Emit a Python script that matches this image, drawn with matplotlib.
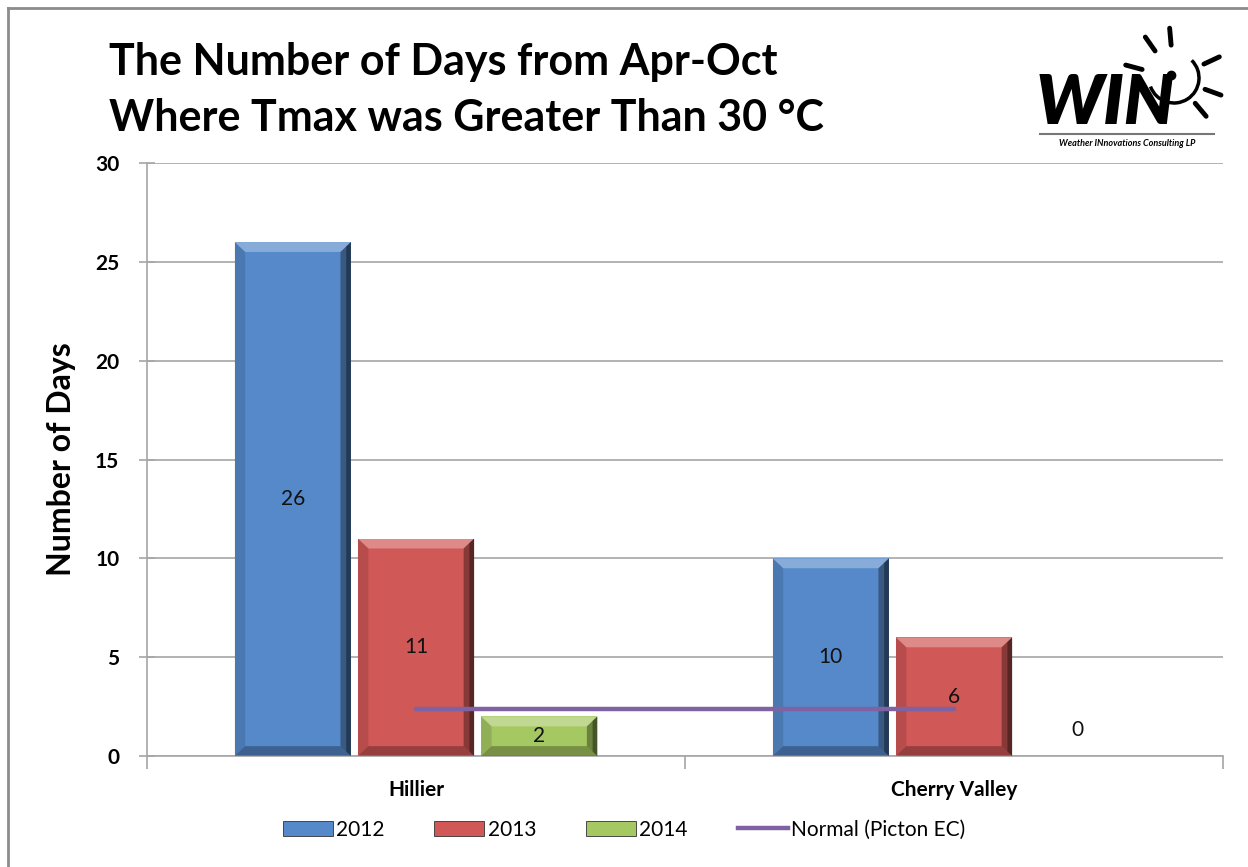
import numpy as np
import matplotlib.pyplot as plt
from matplotlib.patches import Polygon, Patch, Arc
from matplotlib.lines import Line2D

plt.rcParams['font.family'] = ['Lato', 'DejaVu Sans']

# data
stations = ["Hillier", "Cherry Valley"]
years = ["2012", "2013", "2014"]
days_2012 = [26, 10]
days_2013 = [11, 6]
days_2014 = [2, 0]
normal_picton = [2.4, 2.4]
y_ticks = [0, 5, 10, 15, 20, 25, 30]

colors = ["#5589C9", "#D05857", "#A5C862"]
line_color = "#7F62A1"


def bevel(ax, x0, w, h):
    """Excel-like bevel on a bar drawn as shaded trapezoids."""
    if h <= 0:
        return
    bx = w * 0.09
    by = min(0.5, h / 2)
    x1 = x0 + w
    pieces = [
        ([(x0, h), (x1, h), (x1 - bx, h - by), (x0 + bx, h - by)], "white", 0.3),
        ([(x1, h), (x1, 0), (x1 - bx, by), (x1 - bx, h - by)], "black", 0.35),
        ([(x1, h), (x1, 0), (x1 - bx * 0.45, by * 0.45), (x1 - bx * 0.45, h - by * 0.45)], "black", 0.35),
        ([(x0, 0), (x1, 0), (x1 - bx, by), (x0 + bx, by)], "black", 0.28),
        ([(x0, 0), (x0, h), (x0 + bx, h - by), (x0 + bx, by)], "black", 0.12),
    ]
    for pts, c, a in pieces:
        ax.add_patch(Polygon(pts, closed=True, facecolor=c, alpha=a,
                             edgecolor="none", zorder=3))


fig = plt.figure(figsize=(12.48, 8.67), dpi=100)
ax = fig.add_axes([0.1178, 0.128, 0.8622, 0.684])

x = np.arange(len(stations))
width = 0.216
offsets = [-0.229, 0.0, 0.229]
series = [days_2012, days_2013, days_2014]

for vals, off, col in zip(series, offsets, colors):
    bars = ax.bar(x + off, vals, width, color=col, zorder=2)
    for b, v in zip(bars, vals):
        bevel(ax, b.get_x(), b.get_width(), v)
        ly = v / 2 if v > 0 else 1.3
        ax.text(b.get_x() + b.get_width() / 2, ly, str(v), ha="center",
                va="center", fontsize=15, color="#111111", zorder=5)

ax.plot(x, normal_picton, color=line_color, lw=3.2, zorder=4,
        solid_capstyle="round")

ax.set_xlim(-0.5, 1.5)
ax.set_ylim(0, 30)
ax.set_yticks(y_ticks)
ax.set_yticklabels([str(t) for t in y_ticks], fontsize=15, fontweight="bold")
ax.yaxis.grid(True, color="#A6A6A6", lw=1.2, zorder=0)
ax.set_axisbelow(True)
ax.tick_params(axis="y", direction="inout", length=12, color="#A6A6A6",
               width=1.2, pad=14)

ax.set_xticks(x)
ax.set_xticklabels(stations, fontsize=15, fontweight="bold")
ax.set_xticks([-0.5, 0.5, 1.5], minor=True)
ax.tick_params(axis="x", which="major", length=0, pad=17)
ax.tick_params(axis="x", which="minor", direction="out", length=9,
               color="#A6A6A6", width=1.2)

for side in ["top", "right"]:
    ax.spines[side].set_visible(False)
for side in ["left", "bottom"]:
    ax.spines[side].set_color("#A6A6A6")
    ax.spines[side].set_linewidth(1.2)

ax.set_ylabel("Number of Days", fontsize=23, fontweight="bold", labelpad=14)

fig.text(0.087, 0.929, "The Number of Days from Apr-Oct", fontsize=31,
         fontweight="bold", va="center", ha="left")
fig.text(0.087, 0.864, "Where Tmax was Greater Than 30 \u00b0C", fontsize=31,
         fontweight="bold", va="center", ha="left")

# legend
handles = [Patch(facecolor=c, edgecolor="#333333", lw=0.6) for c in colors]
handles.append(Line2D([0], [0], color=line_color, lw=3.2))
labels = years + ["Normal (Picton EC)"]
fig.legend(handles, labels, loc="center", bbox_to_anchor=(0.5, 0.043),
           ncol=4, frameon=False, fontsize=15, handlelength=2.4,
           handleheight=0.8, handletextpad=0.15, columnspacing=2.4)

# frame edges of the original picture
fig.add_artist(Line2D([0.0064, 0.0064], [0, 0.9908], color="#8C8C8C", lw=2))
fig.add_artist(Line2D([0.0064, 1.0], [0.9908, 0.9908], color="#8C8C8C", lw=2))

# logo in pixel coordinates
lg = fig.add_axes([0, 0, 1, 1], zorder=10)
lg.set_xlim(0, 1248)
lg.set_ylim(867, 0)
lg.axis("off")
lg.patch.set_alpha(0)
lg.text(1036, 104, "WIN", fontsize=50, fontweight="heavy", style="italic",
        ha="left", va="center", color="black")
lg.plot([1040, 1214], [134, 134], color="#777777", lw=1.5)
lg.text(1127, 144, "Weather INnovations Consulting LP", fontsize=6.5,
        fontweight="bold", style="italic", ha="center", va="center")
cx, cy = 1174, 78
lg.add_patch(Arc((cx, cy), 50, 50, theta1=-45, theta2=160, color="black",
                 lw=2.5))
lg.plot([cx - 3, 1166], [cy - 3, 100], color="black", lw=3)
lg.plot([cx - 3], [cy - 3], "o", color="black", ms=6)
for ang in [165, 125, 95, 25, -20, -50]:
    a = np.deg2rad(ang)
    lg.plot([cx + 33 * np.cos(a), cx + 50 * np.cos(a)],
            [cy - 33 * np.sin(a), cy - 50 * np.sin(a)], color="black", lw=3.5,
            solid_capstyle="round")

fig.savefig("out.png", dpi=100)
